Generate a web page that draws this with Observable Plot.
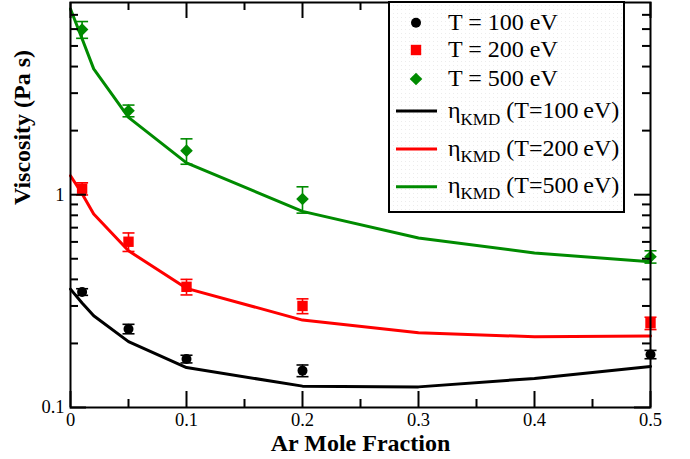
<!DOCTYPE html>
<html>
<head>
<meta charset="utf-8">
<script src="https://cdn.jsdelivr.net/npm/d3@7"></script>
<script src="https://cdn.jsdelivr.net/npm/@observablehq/plot@0.6"></script>
<style>
  html, body { margin: 0; padding: 0; background: #fff; }
  #chart { position: relative; width: 690px; height: 459px; }
  #chart svg { position: absolute; left: 0; top: 0; }
</style>
</head>
<body>
<div id="chart"></div>
<script>
// Simulated viscosity at three temperatures (points with error bars)
const fractions = [0.01, 0.05, 0.1, 0.2, 0.5];
const visc100 = [0.349, 0.234, 0.169, 0.149, 0.1775];
const err100  = [0.0125, 0.012, 0.007, 0.0094, 0.008];
const visc200 = [1.067, 0.601, 0.369, 0.300, 0.249];
const err200  = [0.07, 0.06, 0.031, 0.024, 0.0166];
const visc500 = [5.97, 2.48, 1.61, 0.954, 0.511];
const err500  = [0.54, 0.157, 0.22, 0.135, 0.034];

// KMD model curves
const kmdFractions = [0, 0.01, 0.02, 0.05, 0.1, 0.2, 0.3, 0.4, 0.5];
const kmd100 = [0.360, 0.310, 0.270, 0.204, 0.154, 0.126, 0.125, 0.137, 0.156];
const kmd200 = [1.228, 1.01, 0.811, 0.545, 0.363, 0.2575, 0.2245, 0.215, 0.217];
const kmd500 = [7.46, 5.40, 3.90, 2.31, 1.41, 0.835, 0.626, 0.532, 0.484];

// Series styling and legend text
const temperatures = ["100", "200", "500"];
const seriesColors = ["#000000", "#ff0000", "#008b00"];
const pointLabels = ["T = 100 eV", "T = 200 eV", "T = 500 eV"];

// Axis ticks
const xMajor = [0, 0.1, 0.2, 0.3, 0.4, 0.5];
const xLabels = ["0", "0.1", "0.2", "0.3", "0.4", "0.5"];
const xMinor = [0.05, 0.15, 0.25, 0.35, 0.45];
const yMajor = [0.1, 1];
const yLabels = ["0.1", "1"];
const yMinor = [0.2, 0.3, 0.4, 0.5, 0.6, 0.7, 0.8, 0.9, 2, 3, 4, 5, 6, 7];

const serif = "'Liberation Serif', 'Times New Roman', serif";
const W = 690, H = 459;
const margin = {top: 2, right: 40, bottom: 52, left: 70};
const innerW = W - margin.left - margin.right;
const innerH = H - margin.top - margin.bottom;
const majorLen = 16, minorLen = 8;

// Marker shapes (size arrives as pi*r^2)
const half = size => Math.sqrt(size / Math.PI);
const circleSym = {draw(ctx, size) { const r = half(size); ctx.moveTo(r, 0); ctx.arc(0, 0, r, 0, 2 * Math.PI); }};
const squareSym = {draw(ctx, size) { const r = half(size); ctx.rect(-r, -r, 2 * r, 2 * r); }};
const diamondSym = {draw(ctx, size) { const r = half(size); ctx.moveTo(0, -r); ctx.lineTo(r, 0); ctx.lineTo(0, r); ctx.lineTo(-r, 0); ctx.closePath(); }};
const capSym = {draw(ctx, size) { const r = half(size); ctx.moveTo(-r, 0); ctx.lineTo(r, 0); }};
const symbols = [circleSym, squareSym, diamondSym];
const symbolR = [5, 5.2, 6.3];

const pointSets = [visc100, visc200, visc500];
const errSets = [err100, err200, err500];
const kmdSets = [kmd100, kmd200, kmd500];

const marks = [];
kmdSets.forEach((vals, s) => {
  const rows = kmdFractions.map((x, i) => ({x, v: vals[i]}));
  marks.push(Plot.line(rows, {x: "x", y: "v", stroke: seriesColors[s], strokeWidth: 3, curve: "linear"}));
});
pointSets.forEach((vals, s) => {
  const rows = fractions.map((x, i) => ({x, v: vals[i], lo: vals[i] - errSets[s][i], hi: vals[i] + errSets[s][i]}));
  const c = seriesColors[s];
  marks.push(
    Plot.ruleX(rows, {x: "x", y1: "lo", y2: "hi", stroke: c, strokeWidth: 1.6}),
    Plot.dot(rows, {x: "x", y: "lo", symbol: capSym, r: 6, stroke: c, strokeWidth: 1.6, fill: "none"}),
    Plot.dot(rows, {x: "x", y: "hi", symbol: capSym, r: 6, stroke: c, strokeWidth: 1.6, fill: "none"}),
    Plot.dot(rows, {x: "x", y: "v", symbol: symbols[s], r: symbolR[s], fill: c, stroke: "none"})
  );
});

const plot = Plot.plot({
  width: W,
  height: H,
  marginTop: margin.top,
  marginRight: margin.right,
  marginBottom: margin.bottom,
  marginLeft: margin.left,
  style: {fontFamily: serif, fontSize: "18px", background: "white", color: "black"},
  x: {type: "linear", domain: [0, 0.5]},
  y: {type: "log", domain: [0.1, 8]},
  marks: [
    ...marks,
    // inward ticks on all four sides
    Plot.tickX(xMajor, {x: d => d, insetTop: innerH - majorLen, strokeWidth: 2}),
    Plot.tickX(xMinor, {x: d => d, insetTop: innerH - minorLen, strokeWidth: 2}),
    Plot.tickX(xMajor, {x: d => d, insetBottom: innerH - majorLen, strokeWidth: 2}),
    Plot.tickX(xMinor, {x: d => d, insetBottom: innerH - minorLen, strokeWidth: 2}),
    Plot.tickY(yMajor, {y: d => d, insetRight: innerW - majorLen, strokeWidth: 2}),
    Plot.tickY(yMinor, {y: d => d, insetRight: innerW - minorLen, strokeWidth: 2}),
    Plot.tickY(yMajor, {y: d => d, insetLeft: innerW - majorLen, strokeWidth: 2}),
    Plot.tickY(yMinor, {y: d => d, insetLeft: innerW - minorLen, strokeWidth: 2}),
    Plot.frame({stroke: "black", strokeWidth: 2}),
    Plot.axisX(xMajor, {tickSize: 0, tickPadding: 5, tickFormat: d => xLabels[xMajor.indexOf(d)], label: null, fontFamily: serif, fontSize: 18.5, fontVariant: "normal"}),
    Plot.axisY(yMajor, {tickSize: 0, tickPadding: 6, tickFormat: d => yLabels[yMajor.indexOf(d)], label: null, fontFamily: serif, fontSize: 18.5, fontVariant: "normal"}),
    Plot.text(["Ar Mole Fraction"], {text: d => d, frameAnchor: "bottom", dy: 43, lineAnchor: "bottom", fontSize: 24, fontWeight: "bold", fontFamily: serif}),
    Plot.text(["Viscosity (Pa s)"], {text: d => d, frameAnchor: "left", rotate: -90, dx: -41, lineAnchor: "bottom", fontSize: 24, fontWeight: "bold", fontFamily: serif})
  ]
});

const chart = document.getElementById("chart");
chart.appendChild(plot);

// Legend box in the upper right of the frame
const lg = d3.create("svg").attr("width", W).attr("height", H)
  .style("font-family", serif)
  .style("pointer-events", "none");
const pat = lg.append("defs").append("pattern")
  .attr("id", "legend-dots").attr("width", 4).attr("height", 4).attr("patternUnits", "userSpaceOnUse");
pat.append("rect").attr("width", 4).attr("height", 4).attr("fill", "#ffffff");
pat.append("rect").attr("x", 1).attr("y", 1).attr("width", 1).attr("height", 1).attr("fill", "#ececec");

const box = {x: 389, y: 2, w: 235, h: 210};
lg.append("rect").attr("x", box.x).attr("y", box.y).attr("width", box.w).attr("height", box.h)
  .attr("fill", "url(#legend-dots)").attr("stroke", "black").attr("stroke-width", 2);

const symX = 416, textX = 448;
const pointRowY = [22.7, 50, 79];
const pointBase = [29.5, 57, 86];
const lineRowY = [111, 149, 186.7];
const lineBase = [118, 155.5, 192.5];

pointLabels.forEach((label, s) => {
  const path = d3.path();
  symbols[s].draw(path, Math.PI * symbolR[s] * symbolR[s]);
  lg.append("path").attr("d", path.toString())
    .attr("transform", `translate(${symX},${pointRowY[s]})`)
    .attr("fill", seriesColors[s]);
  lg.append("text").attr("x", textX).attr("y", pointBase[s]).attr("font-size", 24).text(label);
});

temperatures.forEach((t, s) => {
  lg.append("line").attr("x1", 396).attr("x2", 437).attr("y1", lineRowY[s]).attr("y2", lineRowY[s])
    .attr("stroke", seriesColors[s]).attr("stroke-width", 3);
  const txt = lg.append("text").attr("x", textX).attr("y", lineBase[s]).attr("font-size", 24);
  txt.append("tspan").text("\u03b7");
  txt.append("tspan").attr("font-size", 17).attr("dy", 6.5).text("KMD");
  txt.append("tspan").attr("dy", -6.5).text(` (T=${t}\u2009eV)`);
});

chart.appendChild(lg.node());
</script>
</body>
</html>
